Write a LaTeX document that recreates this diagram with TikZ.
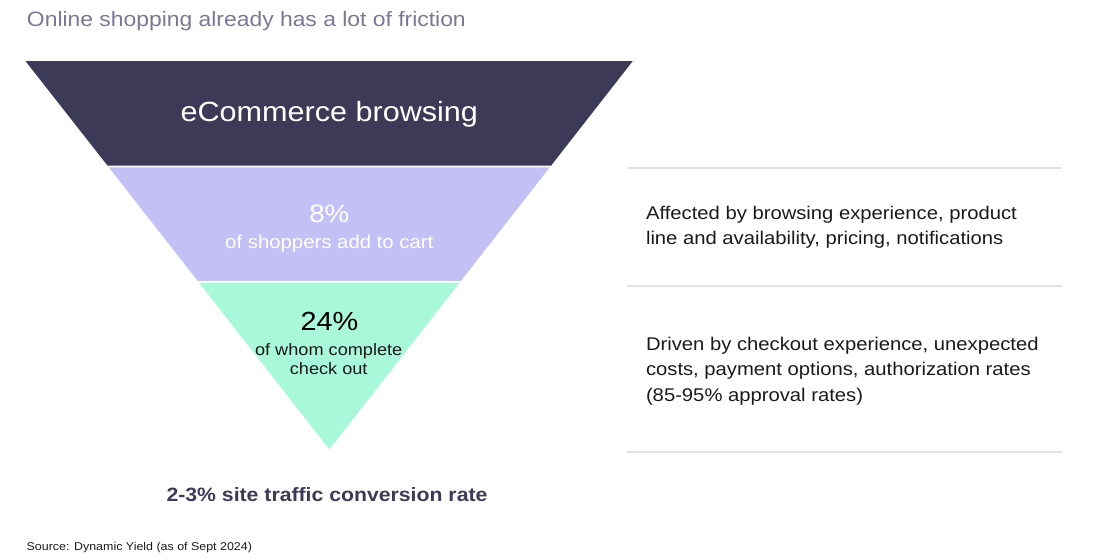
\documentclass[tikz,border=0pt]{standalone}
\usepackage{fontspec}
\setmainfont{Liberation Sans}[FakeStretch=1.1]
\definecolor{navy}{HTML}{3C3A57}
\definecolor{lav}{HTML}{C2C0F5}
\definecolor{mint}{HTML}{A8F8D9}
\definecolor{titlegray}{HTML}{7B7897}
\definecolor{rule}{HTML}{E2E2E8}
\definecolor{ink}{HTML}{1A1A1A}
\tikzset{
  txt/.style={inner sep=0pt, outer sep=0pt, anchor=base},
  txtl/.style={inner sep=0pt, outer sep=0pt, anchor=base west},
  divider/.style={draw=rule, line width=1.8pt},
}
\newcommand{\fs}[1]{\fontsize{#1}{#1}\selectfont}
\begin{document}
\begin{tikzpicture}[x=1pt,y=-1pt]
\useasboundingbox (0,0) rectangle (1098,558);
% funnel
\fill[navy] (25.4,61) -- (632.8,61) -- (551.0,165.7) -- (107.6,165.7) -- cycle;
\fill[lav] (108.8,167.3) -- (549.8,167.3) -- (461.0,280.8) -- (197.6,280.8) -- cycle;
\fill[mint] (199.0,282.6) -- (459.6,282.6) -- (329.3,449.3) -- cycle;
% title
\node[txtl, text=titlegray] (title) at (27,26) {\fs{20.8}Online shopping already has a lot of friction};
% funnel texts
\node[txt, text=white] (browse) at (329.3,121) {\fs{27.8}eCommerce browsing};
\node[txt, text=white] (pct8) at (329.3,222.3) {\fs{25.2}8\%};
\node[txt, text=white] (cart) at (329.3,248.3) {\fs{18.5}of shoppers add to cart};
\node[txt, text=black] (pct24) at (329.5,330) {\fs{26.2}24\%};
\node[txt, text=ink] (whom) at (328.7,355) {\fs{16.5}of whom complete};
\node[txt, text=ink] (check) at (328.7,374.3) {\fs{16.5}check out};
% dividers
\coordinate (d1a) at (626.7,168.3); \coordinate (d1b) at (1061.7,168.3);
\coordinate (d2a) at (626.7,286); \coordinate (d2b) at (1061.7,286);
\coordinate (d3a) at (626.7,451.7); \coordinate (d3b) at (1061.7,451.7);
\draw[divider] (d1a) -- (d1b);
\draw[divider] (d2a) -- (d2b);
\draw[divider] (d3a) -- (d3b);
% right texts
\node[txtl, text=ink] (a1) at (646,219) {\fs{18.4}Affected by browsing experience, product};
\node[txtl, text=ink] (a2) at (646,244.5) {\fs{18.4}line and availability, pricing, notifications};
\node[txtl, text=ink] (b1) at (646,350) {\fs{18.4}Driven by checkout experience, unexpected};
\node[txtl, text=ink] (b2) at (646,375.5) {\fs{18.4}costs, payment options, authorization rates};
\node[txtl, text=ink] (b3) at (646,401) {\fs{18.4}(85-95\% approval rates)};
% bottom
\node[txt, text=navy] (conv) at (327,501.7) {\fs{19.3}\bfseries 2-3\% site traffic conversion rate};
\node[txtl, text=ink] (src) at (26.7,550) {\fs{11.3}Source: Dynamic Yield (as of Sept 2024)};
\end{tikzpicture}
\end{document}
